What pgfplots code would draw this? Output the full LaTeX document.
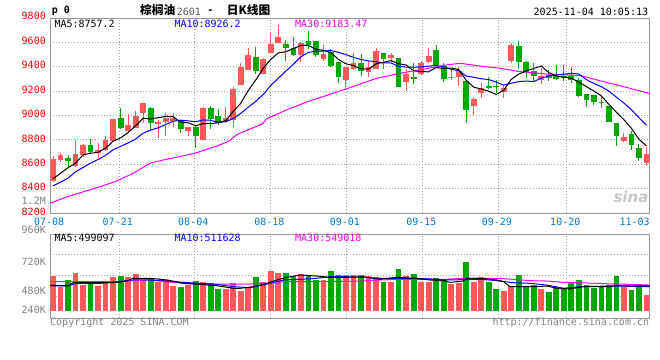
\documentclass[border=0pt]{standalone}
\usepackage{pgfplots}
\pgfplotsset{compat=1.18}
\usepackage{pgfplotstable}
\usepackage{fontspec}
\setmainfont{DejaVu Sans}
\newfontfamily\mono{DejaVu Sans Mono}
\newfontfamily\cjk{Noto Sans CJK SC}
\newfontfamily\logofont{DejaVu Sans}
\definecolor{cred}{RGB}{255,88,88}
\definecolor{cgreen}{RGB}{0,168,0}
\definecolor{dblue}{RGB}{0,122,204}
\definecolor{axgray}{RGB}{150,150,150}
\definecolor{grgray}{RGB}{165,165,165}
\definecolor{lgray}{RGB}{128,128,128}
\definecolor{magen}{RGB}{255,0,255}
\newcommand\mf{\mono\fontsize{10bp}{12bp}\selectfont}

% up candles (close >= open): index, open, high, low, close, volume (K)
\pgfplotstableread{
i O H L C V
0 8465 8669 8460 8642 473
1 8639 8696 8622 8677 349
3 8587 8800 8582 8685 512
4 8675 8765 8660 8759 368
6 8691 8773 8655 8718 360
7 8718 8832 8710 8800 395
8 8794 8975 8790 8968 465
10 8876 9013 8868 8923 465
11 8901 9040 8895 8997 497
12 9019 9105 8935 9105 427
14 8931 8964 8819 8950 407
15 8950 9024 8833 8978 427
16 8958 9024 8909 8978 357
18 8876 8909 8835 8904 368
20 8800 9070 8800 9065 403
23 8956 9068 8950 8983 322
24 8964 9237 8909 9218 395
25 9250 9433 9250 9395 298
26 9373 9551 9373 9496 330
28 9340 9470 9340 9463 407
29 9515 9679 9515 9586 532
30 9592 9742 9592 9646 512
33 9496 9600 9440 9592 497
36 9461 9578 9447 9504 427
39 9291 9395 9232 9395 485
40 9379 9510 9373 9428 485
42 9359 9450 9313 9395 473
43 9379 9550 9379 9529 465
45 9474 9510 9440 9496 407
47 9277 9379 9204 9338 473
49 9338 9445 9330 9428 407
50 9436 9550 9428 9490 407
53 9310 9379 9290 9318 380
54 9318 9400 9242 9365 395
56 9078 9155 9005 9133 407
57 9187 9264 9141 9223 458
60 9196 9250 9141 9223 298
61 9449 9592 9428 9578 357
65 9291 9387 9256 9324 322
76 8794 8860 8780 8827 349
79 8614 8740 8590 8685 252
}\up

% down candles (close < open)
\pgfplotstableread{
i O H L C V
2 8655 8677 8579 8631 427
5 8759 8808 8685 8704 388
9 8978 9065 8888 8896 473
13 9059 9073 8882 8937 447
17 8964 8964 8860 8890 342
19 8909 8923 8737 8835 415
21 9065 9078 8890 8970 388
22 8997 9054 8923 8937 322
27 9477 9559 9340 9367 458
31 9586 9619 9450 9551 512
32 9551 9646 9490 9496 473
34 9610 9692 9543 9578 473
35 9610 9610 9482 9496 427
37 9523 9544 9394 9406 532
38 9441 9441 9269 9313 485
41 9428 9500 9320 9367 485
44 9515 9515 9379 9463 407
46 9474 9474 9237 9237 555
48 9319 9428 9259 9297 497
51 9537 9580 9414 9414 447
52 9406 9428 9277 9297 435
55 9286 9286 8942 9046 637
58 9242 9318 9215 9228 407
59 9238 9291 9183 9230 322
62 9572 9610 9379 9436 485
63 9436 9447 9305 9359 349
64 9367 9428 9277 9327 368
66 9332 9373 9280 9310 290
67 9327 9414 9291 9300 349
68 9327 9414 9280 9305 330
69 9327 9400 9264 9291 388
70 9291 9305 9150 9160 427
71 9177 9177 9073 9128 368
72 9169 9169 9090 9114 330
73 9114 9150 9060 9105 349
74 9078 9078 8950 8950 368
75 8937 8937 8753 8835 473
77 8847 8870 8720 8759 310
78 8737 8770 8630 8655 368
}\down

\pgfplotsset{
  sinagrid/.style={draw=grgray, line width=1bp, dash pattern=on 1bp off 2bp},
  candle/.style={draw=none, no markers, forget plot, error bars/.cd, y dir=plus, y explicit, error mark=none},
}

\begin{document}
\begin{tikzpicture}
\useasboundingbox (0bp,0bp) rectangle (660bp,360bp);

% ---------------- price panel ----------------
\begin{axis}[
  at={(50.3bp,146.7bp)}, anchor=south west, scale only axis,
  width=599.2bp, height=194.3bp,
  xmin=-0.36, xmax=79.4, ymin=8200, ymax=9790,
  axis line style={draw=axgray, line width=1bp},
  major tick length=0pt,
  xtick={8.82,18.87,29,39.06,49.23,59.29,68.39},
  xticklabels={07-21,08-04,08-18,09-01,09-15,09-29,10-20},
  ytick={8200,8400,8600,8800,9000,9200,9400,9600},
  yticklabels={8200,8400,8600,8800,9000,9200,9400,9600},
  xmajorgrids, ymajorgrids,
  grid style={sinagrid},
  xticklabel style={font=\mf, text=dblue, anchor=center, inner sep=0pt, yshift=-8.4bp, xshift=-1.5bp},
  yticklabel style={font=\mf, text=red, anchor=east, inner sep=0pt, xshift=-4.3bp, yshift=1.6bp},
]
% wicks
\addplot[candle, error bar style={line width=1bp, draw=cred}]
  table[x=i, y=L, y error expr=\thisrow{H}-\thisrow{L}] {\up};
\addplot[candle, error bar style={line width=1bp, draw=cgreen}]
  table[x=i, y=L, y error expr=\thisrow{H}-\thisrow{L}] {\down};
% bodies
\addplot[candle, error bar style={line width=5.8bp, draw=cred}]
  table[x=i, y=O, y error expr=\thisrow{C}-\thisrow{O}] {\up};
\addplot[candle, error bar style={line width=5.8bp, draw=cgreen}]
  table[x=i, y=C, y error expr=\thisrow{O}-\thisrow{C}] {\down};
% MA30
\addplot[magen, line width=1bp, mark=none] coordinates {
(-0.36,8282) (1.9,8336) (4.1,8377) (6.3,8418) (8.5,8465) (10.7,8528) (12.9,8610) (14.3,8631)
(18.8,8690) (21.8,8750) (23.4,8790) (24.5,8845) (27.8,8930) (28.5,8975) (31.6,9060) (32.2,9073)
(34.2,9120) (36.7,9170) (39.6,9230) (43.1,9305) (46.2,9346) (49.3,9379) (52.4,9414) (54.2,9428)
(56.8,9405) (59.5,9387) (62.2,9359) (65.7,9340) (70.2,9327) (73.3,9277) (76.8,9223) (79.4,9180)};
% MA10
\addplot[blue, line width=1bp, mark=none] coordinates {
(0,8425) (1,8455) (2,8487) (3,8540) (4,8575) (5,8610) (6,8640) (7,8675) (8,8720) (9,8748)
(10,8776) (11,8808) (12,8856) (13,8881) (14,8900) (15,8927) (16,8953) (17,8962) (18,8956) (19,8950)
(20,8964) (21,8961) (22,8944) (23,8949) (24,8976) (25,9018) (26,9069) (27,9117) (28,9173) (29,9248)
(30,9306) (31,9364) (32,9420) (33,9481) (34,9517) (35,9527) (36,9528) (37,9532) (38,9517) (39,9498)
(40,9476) (41,9458) (42,9447) (43,9441) (44,9430) (45,9430) (46,9403) (47,9396) (48,9395) (49,9398)
(50,9404) (51,9409) (52,9399) (53,9378) (54,9368) (55,9323) (56,9313) (57,9301) (58,9294) (59,9274)
(60,9248) (61,9264) (62,9278) (63,9282) (64,9278) (65,9306) (66,9324) (67,9332) (68,9339) (69,9345)
(70,9339) (71,9294) (72,9262) (73,9236) (74,9199) (75,9150) (76,9102) (77,9047) (78,8982) (79,8922)};
% MA5
\addplot[black, line width=1bp, mark=none] coordinates {
(0,8482) (1,8528) (2,8573) (3,8609) (4,8679) (5,8691) (6,8699) (7,8733) (8,8790) (9,8817)
(10,8861) (11,8917) (12,8978) (13,8972) (14,8982) (15,8993) (16,8990) (17,8947) (18,8940) (19,8917)
(20,8934) (21,8933) (22,8942) (23,8958) (24,9035) (25,9101) (26,9206) (27,9292) (28,9388) (29,9461)
(30,9512) (31,9523) (32,9548) (33,9574) (34,9573) (35,9543) (36,9533) (37,9515) (38,9459) (39,9423)
(40,9409) (41,9382) (42,9380) (43,9423) (44,9436) (45,9450) (46,9424) (47,9413) (48,9366) (49,9359)
(50,9358) (51,9393) (52,9385) (53,9389) (54,9377) (55,9288) (56,9232) (57,9217) (58,9199) (59,9172)
(60,9207) (61,9296) (62,9339) (63,9365) (64,9385) (65,9405) (66,9351) (67,9324) (68,9313) (69,9306)
(70,9273) (71,9237) (72,9200) (73,9160) (74,9091) (75,9026) (76,8966) (77,8895) (78,8805) (79,8752)};
\end{axis}

% ---------------- volume panel ----------------
\begin{axis}[
  at={(50.3bp,41.7bp)}, anchor=south west, scale only axis,
  width=599.2bp, height=84bp,
  xmin=-0.36, xmax=79.4, ymin=-20, ymax=960,
  axis line style={draw=axgray, line width=1bp},
  major tick length=0pt,
  xtick={8.82,18.87,29,39.06,49.23,59.29,68.39}, xticklabels={},
  ytick={240,480,720}, yticklabels={},
  xmajorgrids, ymajorgrids,
  grid style={sinagrid},
]
\addplot[candle, error bar style={line width=5.8bp, draw=cred}]
  table[x=i, y expr=70, y error expr=\thisrow{V}-70] {\up};
\addplot[candle, error bar style={line width=5.8bp, draw=cgreen}]
  table[x=i, y expr=70, y error expr=\thisrow{V}-70] {\down};
\addplot[magen, line width=1bp, mark=none] coordinates {
(-0.36,407) (8.5,407) (10.7,419) (12.9,427) (15.2,407) (17.4,388) (19.6,376) (26.2,380) (28.5,388)
(30.7,407) (36.9,407) (41.3,415) (43.5,427) (45.8,435) (52.4,435) (54.6,447) (59.1,447) (61.3,435)
(63.5,419) (65.7,415) (68,399) (70.2,395) (72.4,388) (74.6,380) (76.9,376) (79.4,368)};
\addplot[blue, line width=1bp, mark=none] coordinates {
(-0.36,360) (1.9,357) (3.2,388) (6.3,388) (8.7,407) (10.7,427) (12.9,427) (15.2,415) (17.4,399)
(19.6,388) (21.8,376) (24,349) (26.2,337) (28.5,380) (30.7,427) (32.9,435) (35.1,447) (36.9,465)
(39.1,465) (41.3,458) (43.5,447) (48,447) (50.2,439) (52.4,427) (56.9,435) (59.1,419) (61.3,395)
(63.5,388) (65.7,368) (68,330) (70.2,349) (74.6,357) (79.4,349)};
\addplot[black, line width=1bp, mark=none] coordinates {
(-0.36,368) (1.9,357) (2.7,395) (6.3,395) (8.7,399) (9.8,415) (10.7,447) (12.9,447) (15.2,427)
(17.4,388) (19.6,376) (21.8,360) (24,330) (24.9,330) (26.7,349) (28.5,388) (29.8,427) (31.1,458)
(32.9,485) (35.1,473) (36.9,458) (39.1,458) (41.3,465) (43.5,435) (45.8,458) (48,447) (50.2,427)
(52,419) (52.9,399) (54.6,415) (55.1,447) (56.9,447) (59.1,427) (60,407) (60.8,349) (64.4,349)
(65.7,357) (67.1,330) (68.8,322) (70.6,349) (74.1,349) (75,360) (79.4,357)};
\end{axis}

% ---------------- texts ----------------
\node[anchor=east, text=red, font=\mf, inner sep=0pt] at (46bp,344.2bp) {9800};
\node[anchor=east, text=lgray, font=\mf, inner sep=0pt] at (46bp,159.2bp) {1.2M};
\node[text=dblue, font=\mf, inner sep=0pt] at (49.2bp,138.3bp) {07-08};
\node[text=dblue, font=\mf, inner sep=0pt] at (634.7bp,138.3bp) {11-03};
\node[anchor=east, text=lgray, font=\mf, inner sep=0pt] at (46bp,129.7bp) {960K};
\node[anchor=east, text=lgray, font=\mf, inner sep=0pt] at (46bp,98.3bp) {720K};
\node[anchor=east, text=lgray, font=\mf, inner sep=0pt] at (46bp,69.3bp) {480K};
\node[anchor=east, text=lgray, font=\mf, inner sep=0pt] at (46bp,49.7bp) {240K};
\node[anchor=west, text=black, font=\mf, inner sep=0pt] at (54.3bp,336bp) {MA5:8757.2};
\node[anchor=west, text=blue, font=\mf, inner sep=0pt] at (174.3bp,336bp) {MA10:8926.2};
\node[anchor=west, text=magen, font=\mf, inner sep=0pt] at (295bp,336bp) {MA30:9183.47};
\node[anchor=west, text=black, font=\mf, inner sep=0pt] at (54.3bp,121.7bp) {MA5:499097};
\node[anchor=west, text=blue, font=\mf, inner sep=0pt] at (174.3bp,121.7bp) {MA10:511628};
\node[anchor=west, text=magen, font=\mf, inner sep=0pt] at (295bp,121.7bp) {MA30:549018};
\node[anchor=base west, text=lgray, font=\mf, inner sep=0pt] at (50bp,34.7bp) {Copyright 2025 SINA.COM};
\node[anchor=base east, text=lgray, font=\mf, inner sep=0pt] at (649.3bp,34.7bp) {http://finance.sina.com.cn};
\node[anchor=east, text=black, font=\mf, inner sep=0pt] at (648.3bp,348bp) {2025-11-04 10:05:13};
\node[anchor=base west, text=black, font=\mf\bfseries, inner sep=0pt] at (51.7bp,346bp) {p 0};
\node[anchor=west, inner sep=0pt, font=\cjk\fontsize{11.7bp}{14bp}\selectfont\bfseries] at (140bp,349.5bp) {棕榈油};
\node[anchor=west, inner sep=0pt, text={rgb,255:red,90;green,90;blue,90}, font=\mf] at (176.7bp,348.3bp) {2601};
\node[inner sep=0pt, font=\mf\bfseries] at (210.5bp,348.3bp) {-};
\node[anchor=west, inner sep=0pt, font=\cjk\fontsize{11.7bp}{14bp}\selectfont\bfseries] at (226.7bp,349.5bp) {日K线图};
\node[inner sep=0pt, text=black!22, font=\logofont\fontsize{15bp}{16bp}\selectfont\bfseries\itshape] at (631bp,163bp) {sina};
\end{tikzpicture}
\end{document}
